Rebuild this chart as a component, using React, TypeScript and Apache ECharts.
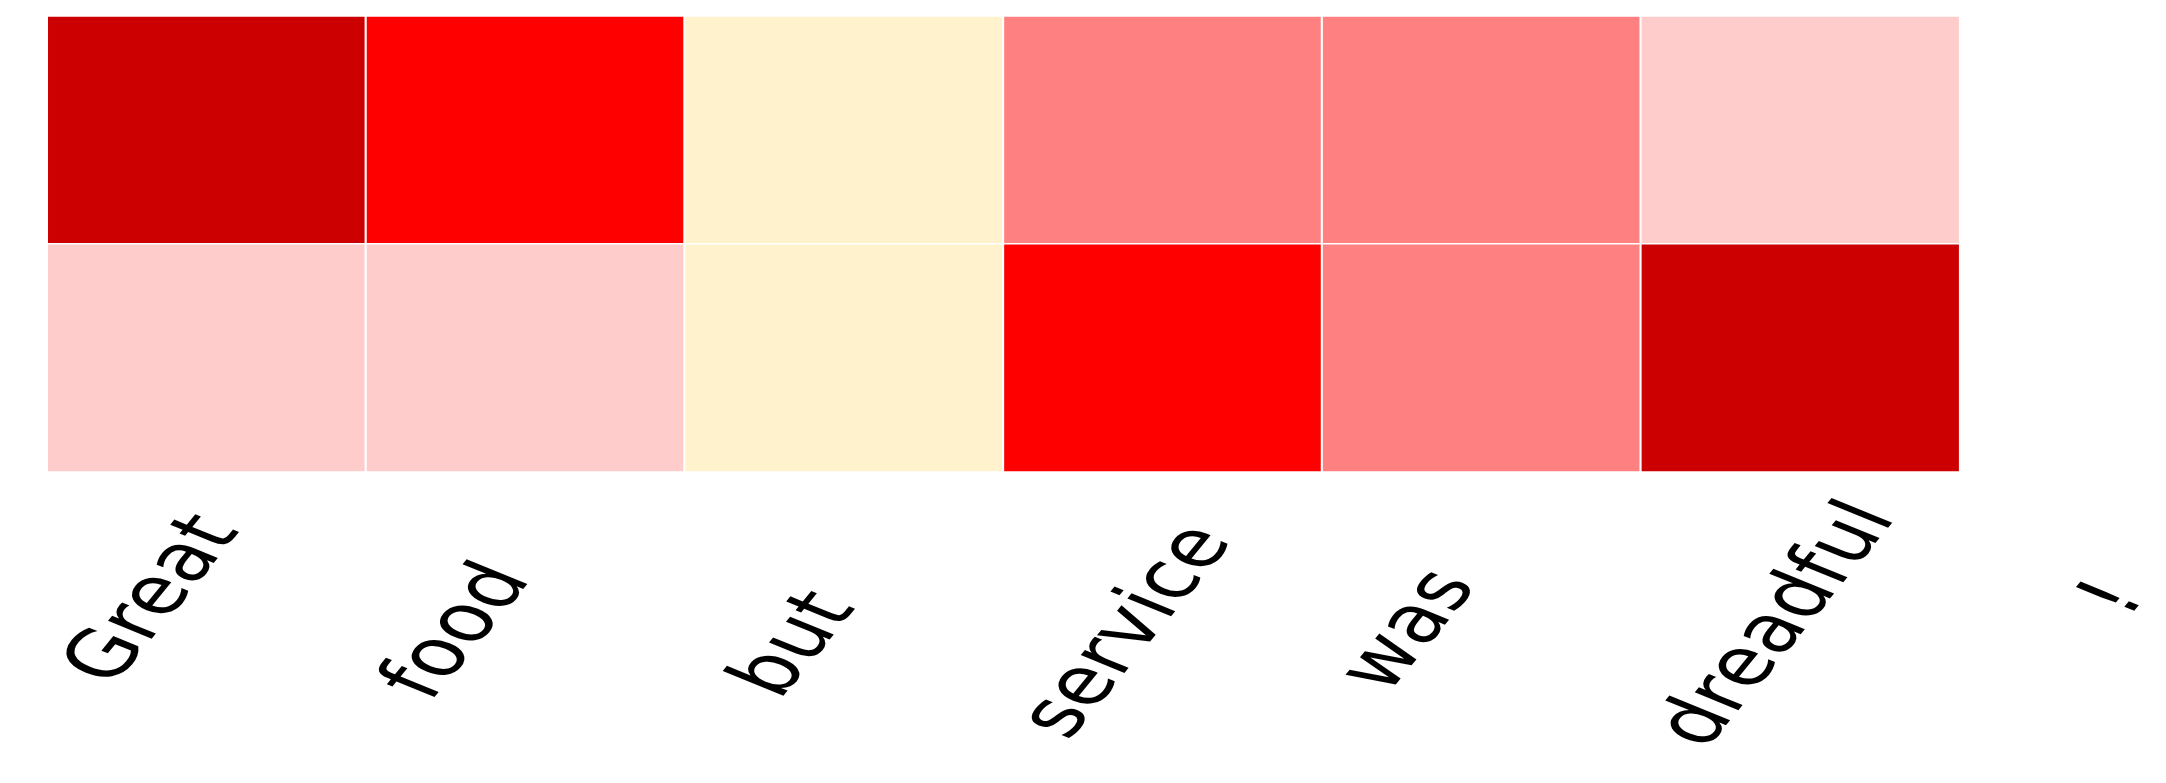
import React, { useEffect, useRef } from 'react';
import * as echarts from 'echarts';

// ---- data ----
const tokens = ['Great', 'food', 'but', 'service', 'was', 'dreadful', '!'];
const rowNames = ['row 1', 'row 2'];
const row1Values: (number | null)[] = [0.9, 0.7, 0.05, 0.5, 0.5, 0.25, null];
const row2Values: (number | null)[] = [0.25, 0.25, 0.05, 0.7, 0.5, 0.9, null];
const pieceBounds = [0, 0.1, 0.3, 0.6, 0.8, 1.0];
const pieceColors = ['#FFF2CC', '#FFCCCC', '#FF8080', '#FF0000', '#CC0000'];

// ---- layout / style ----
const PAGE_H = 783;
const PAGE_W = 2166;
const BASE_W = 1525;
const STRETCH = PAGE_W / BASE_W;
// tick-label offsets from the column centre (dx) and the lower row centre (dy), in px
const LABEL_DX = [-41, -51, -38, -28, -54, -19, -7];
const LABEL_DY = [240, 272, 285, 272, 271, 265, 239];

export default function App() {
  const ref = useRef<HTMLDivElement>(null);
  useEffect(() => {
    if (!ref.current) return;
    const chart = echarts.init(ref.current, undefined, { renderer: 'svg' });
    const data: any[] = [];
    [row1Values, row2Values].forEach((row, yi) => {
      row.forEach((v, xi) => {
        if (v !== null) data.push([xi, yi, v]);
      });
    });
    const pieces = pieceColors.map((c, i) => {
      const p: any = { gte: pieceBounds[i], color: c };
      if (i === pieceColors.length - 1) p.lte = pieceBounds[i + 1];
      else p.lt = pieceBounds[i + 1];
      return p;
    });
    const labelData = tokens.map((_, i) => [i, rowNames.length - 1]);
    chart.setOption({
      animation: false,
      backgroundColor: '#ffffff',
      grid: {
        left: 33.3,
        top: 16.25,
        width: 1570.8,
        height: 455.5,
        containLabel: false,
        outerBoundsMode: 'none',
      },
      xAxis: {
        type: 'category',
        data: tokens,
        axisLine: { show: false },
        axisTick: { show: false },
        axisLabel: { show: false },
        splitLine: { show: false },
        splitArea: { show: false },
      },
      yAxis: {
        type: 'category',
        data: rowNames,
        inverse: true,
        show: false,
      },
      visualMap: {
        type: 'piecewise',
        show: false,
        dimension: 2,
        seriesIndex: 0,
        pieces,
      },
      series: [
        {
          type: 'heatmap',
          data,
          itemStyle: { borderColor: '#ffffff', borderWidth: 1.5 },
          emphasis: { disabled: true },
        },
        {
          type: 'custom',
          silent: true,
          clip: false,
          data: labelData,
          encode: { x: 0, y: 1 },
          renderItem: (params: any, api: any) => {
            const xi = api.value(0);
            const yi = api.value(1);
            const pt = api.coord([xi, yi]);
            return {
              type: 'text',
              x: pt[0] + LABEL_DX[xi],
              y: pt[1] + LABEL_DY[xi],
              rotation: Math.PI / 3,
              style: {
                text: tokens[xi],
                fontFamily: 'DejaVu Sans',
                fontSize: 65,
                fill: '#000000',
                align: 'center',
                verticalAlign: 'middle',
              },
            };
          },
        },
      ],
    });
    return () => chart.dispose();
  }, []);
  return (
    <div
      ref={ref}
      style={{
        position: 'absolute',
        left: 0,
        top: 0,
        width: BASE_W,
        height: PAGE_H,
        transform: `scaleX(${STRETCH})`,
        transformOrigin: '0 0',
        background: '#ffffff',
      }}
    />
  );
}
